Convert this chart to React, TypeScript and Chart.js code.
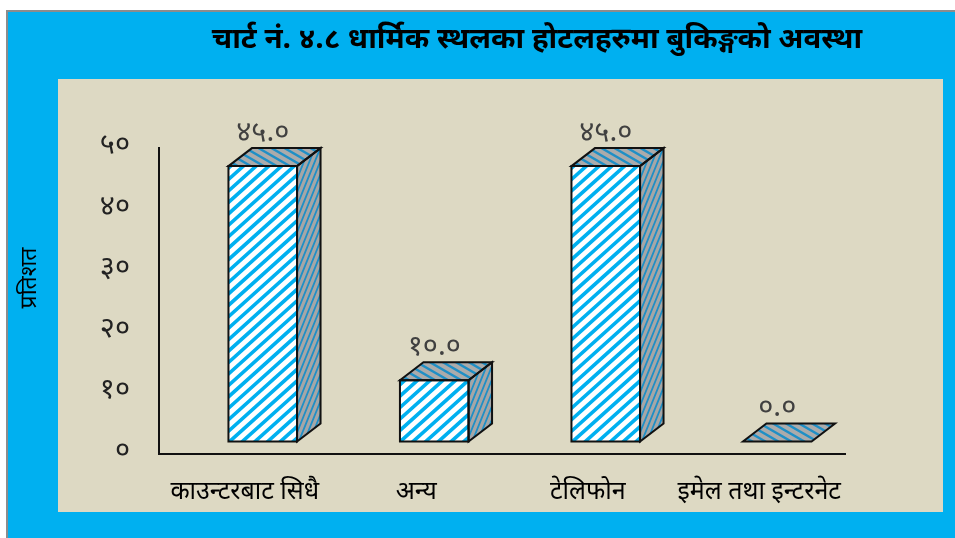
import React, { useEffect, useRef } from "react";
import { Chart, registerables } from "chart.js";

Chart.register(...registerables);

const chartTitle = "चार्ट नं. ४.८ धार्मिक स्थलका होटलहरुमा बुकिङ्गको अवस्था";
const yAxisTitle = "प्रतिशत";
const categories = ["काउन्टरबाट सिधै", "अन्य", "टेलिफोन", "इमेल तथा इन्टरनेट"];
const values = [45, 10, 45, 0];
const valueLabels = ["४५.०", "१०.०", "४५.०", "०.०"];
const yTickLabels = ["०", "१०", "२०", "३०", "४०", "५०"];

const FONT = '"Noto Sans Devanagari", "Lohit Devanagari", Mangal, FreeSans, "Noto Sans", sans-serif';

const OFFX = 18;
const OFFY = 12.5;
const DX = 23.5;
const DY = 18;

type Pt = [number, number];

function pathPoly(ctx: CanvasRenderingContext2D, pts: Pt[]) {
  ctx.beginPath();
  pts.forEach((p, i) => (i ? ctx.lineTo(p[0], p[1]) : ctx.moveTo(p[0], p[1])));
  ctx.closePath();
}

function hatch(
  ctx: CanvasRenderingContext2D,
  pts: Pt[],
  bg: string,
  color: string,
  angleDeg: number,
  spacing: number,
  lw: number
) {
  ctx.save();
  pathPoly(ctx, pts);
  ctx.fillStyle = bg;
  ctx.fill();
  ctx.clip();
  const xs = pts.map((p) => p[0]);
  const ys = pts.map((p) => p[1]);
  const minX = Math.min(...xs), maxX = Math.max(...xs);
  const minY = Math.min(...ys), maxY = Math.max(...ys);
  const cx = (minX + maxX) / 2, cy = (minY + maxY) / 2;
  const R = Math.hypot(maxX - minX, maxY - minY) + 10;
  const a = (angleDeg * Math.PI) / 180;
  const dx = Math.cos(a), dy = -Math.sin(a);
  const nx = Math.sin(a), ny = Math.cos(a);
  ctx.strokeStyle = color;
  ctx.lineWidth = lw;
  ctx.beginPath();
  for (let k = -R; k <= R; k += spacing) {
    const px = cx + nx * k, py = cy + ny * k;
    ctx.moveTo(px - dx * R, py - dy * R);
    ctx.lineTo(px + dx * R, py + dy * R);
  }
  ctx.stroke();
  ctx.restore();
}

const decorPlugin = {
  id: "decor",
  beforeDraw(chart: any) {
    const ctx = chart.ctx as CanvasRenderingContext2D;
    ctx.save();
    ctx.fillStyle = "#8C8C8C";
    ctx.fillRect(6, 10, chart.width - 6, chart.height - 10);
    ctx.fillStyle = "#00B0F0";
    ctx.fillRect(8, 12, chart.width - 8, chart.height - 12);
    ctx.fillStyle = "#DDD9C3";
    ctx.fillRect(58, 79, 885, 433);
    ctx.restore();
  },
  afterDatasetsDraw(chart: any) {
    const ctx = chart.ctx as CanvasRenderingContext2D;
    const meta = chart.getDatasetMeta(0);
    const yScale = chart.scales.y;
    meta.data.forEach((el: any, i: number) => {
      const { x, width } = el.getProps(["x", "width"], true);
      const fx0 = x + OFFX - width / 2;
      const fx1 = fx0 + width;
      const fBottom = yScale.getPixelForValue(0) - OFFY;
      const fTop = yScale.getPixelForValue(values[i]) - OFFY;
      const front: Pt[] = [[fx0, fTop], [fx1, fTop], [fx1, fBottom], [fx0, fBottom]];
      const side: Pt[] = [[fx1, fTop], [fx1 + DX, fTop - DY], [fx1 + DX, fBottom - DY], [fx1, fBottom]];
      const top: Pt[] = [[fx0, fTop], [fx0 + DX, fTop - DY], [fx1 + DX, fTop - DY], [fx1, fTop]];
      const h = fBottom - fTop;
      ctx.save();
      ctx.lineJoin = "miter";
      if (h > 0.5) {
        hatch(ctx, front, "#FFFFFF", "#00B0F0", 42, 8.5, 3.6);
        hatch(ctx, side, "#A6A6A6", "#1F8FC6", 68, 5, 1.8);
      }
      hatch(ctx, top, "#ABABAB", "#1F8FC6", -30, 6.5, 2.4);
      ctx.strokeStyle = "#111";
      ctx.lineWidth = 2;
      if (h > 0.5) {
        pathPoly(ctx, front);
        ctx.stroke();
        pathPoly(ctx, side);
        ctx.stroke();
      }
      pathPoly(ctx, top);
      ctx.stroke();
      ctx.fillStyle = "#404040";
      ctx.font = `29px ${FONT}`;
      ctx.textAlign = "center";
      ctx.textBaseline = "middle";
      ctx.fillText(valueLabels[i], fx0 + width / 2, fTop - DY - 13);
      ctx.restore();
    });
  },
  afterDraw(chart: any) {
    const ctx = chart.ctx as CanvasRenderingContext2D;
    ctx.save();
    ctx.fillStyle = "#000";
    ctx.font = `bold 29.5px ${FONT}`;
    ctx.textAlign = "center";
    ctx.textBaseline = "middle";
    ctx.fillText(chartTitle, 537, 42);
    ctx.translate(32, 278);
    ctx.rotate(-Math.PI / 2);
    ctx.font = `23px ${FONT}`;
    ctx.fillText(yAxisTitle, 0, 0);
    ctx.restore();
  },
};

export default function App() {
  const ref = useRef<HTMLCanvasElement | null>(null);
  useEffect(() => {
    if (!ref.current) return;
    const chart = new Chart(ref.current, {
      type: "bar",
      data: {
        labels: categories,
        datasets: [
          {
            data: values,
            backgroundColor: "rgba(0,0,0,0)",
            borderWidth: 0,
            barPercentage: 0.4,
            categoryPercentage: 1,
          },
        ],
      },
      options: {
        responsive: false,
        animation: false,
        layout: { padding: { left: 0, top: 148, right: 110, bottom: 0 } },
        plugins: { legend: { display: false }, tooltip: { enabled: false }, title: { display: false } },
        scales: {
          x: {
            type: "category",
            grid: { display: false },
            border: { display: true, color: "#111", width: 2 },
            ticks: {
              color: "#000",
              font: { family: FONT, size: 25 },
              padding: 17,
              maxRotation: 0,
              autoSkip: false,
            },
            afterFit: (s: any) => {
              s.height = 84;
            },
          },
          y: {
            min: 0,
            max: 50,
            grid: { display: false },
            border: { display: true, color: "#111", width: 2 },
            ticks: {
              stepSize: 10,
              color: "#222",
              font: { family: FONT, size: 29 },
              padding: 21,
              callback: (v: any) => yTickLabels[Math.round(Number(v) / 10)],
            },
            afterFit: (s: any) => {
              s.width = 159;
            },
          },
        },
      },
      plugins: [decorPlugin],
    });
    return () => chart.destroy();
  }, []);
  return (
    <div style={{ position: "absolute", left: 0, top: 0, width: 955, height: 538 }}>
      <canvas ref={ref} width={955} height={538} style={{ display: "block" }} />
    </div>
  );
}
